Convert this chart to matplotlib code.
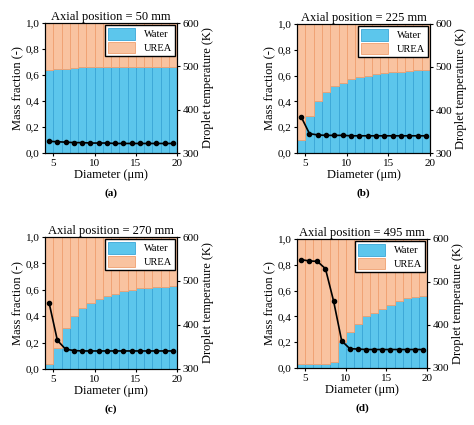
import matplotlib
matplotlib.use("Agg")
import matplotlib.pyplot as plt
from matplotlib.ticker import FuncFormatter

plt.rcParams['font.family'] = ['Liberation Serif', 'DejaVu Serif']

diam = [4.5 + i for i in range(16)]
titles = ["Axial position = 50 mm", "Axial position = 225 mm",
          "Axial position = 270 mm", "Axial position = 495 mm"]
labels = ["(a)", "(b)", "(c)", "(d)"]
water_a = [0.64, 0.645, 0.65, 0.655, 0.66, 0.66, 0.66, 0.66, 0.66, 0.66, 0.66, 0.66, 0.66, 0.66, 0.665, 0.665]
water_b = [0.10, 0.29, 0.40, 0.47, 0.52, 0.54, 0.57, 0.59, 0.60, 0.61, 0.62, 0.625, 0.63, 0.635, 0.64, 0.645]
water_c = [0.04, 0.16, 0.31, 0.40, 0.46, 0.50, 0.53, 0.55, 0.57, 0.59, 0.60, 0.61, 0.615, 0.62, 0.625, 0.63]
water_d = [0.03, 0.03, 0.03, 0.03, 0.05, 0.20, 0.28, 0.34, 0.40, 0.43, 0.46, 0.49, 0.52, 0.54, 0.55, 0.56]
temp_a = [327, 326, 325, 324, 324, 323, 323, 323, 322, 322, 322, 322, 322, 322, 322, 322]
temp_b = [384, 345, 342, 341, 341, 341, 340, 340, 340, 340, 340, 340, 340, 340, 340, 340]
temp_c = [450, 365, 345, 342, 341, 341, 341, 341, 341, 341, 341, 341, 341, 341, 341, 341]
temp_d = [552, 549, 548, 531, 456, 363, 345, 344, 343, 343, 343, 343, 343, 343, 343, 343]
waters = [water_a, water_b, water_c, water_d]
temps = [temp_a, temp_b, temp_c, temp_d]

W, H = 474, 425
fig = plt.figure(figsize=(W/100, H/100), dpi=100)
boxes = [(45, 23, 177, 153), (297, 24, 430, 153), (45, 237, 177, 369), (297, 239, 427, 368)]
fmt = FuncFormatter(lambda v, p: f"{v:.1f}".replace('.', ','))
for k in range(4):
    x0, y0, x1, y1 = boxes[k]
    ax = fig.add_axes([x0/W, 1-y1/H, (x1-x0)/W, (y1-y0)/H])
    w = waters[k]
    u = [1-v for v in w]
    ax.bar(diam, w, width=1.0, color='#5cc6ec', edgecolor='#3aa6d6', linewidth=0.6, label='Water')
    ax.bar(diam, u, bottom=w, width=1.0, color='#f9c3a0', edgecolor='#f0a070', linewidth=0.6, label='UREA')
    ax.set_xlim(4, 20)
    ax.set_ylim(0, 1)
    ax.set_xticks([5, 10, 15, 20])
    ax.set_yticks([0, 0.2, 0.4, 0.6, 0.8, 1.0])
    ax.yaxis.set_major_formatter(fmt)
    ax.tick_params(labelsize=8, length=2.5, pad=1.5)
    ax.set_xlabel("Diameter (μm)", fontsize=9, labelpad=1)
    ax.set_ylabel("Mass fraction (-)", fontsize=9, labelpad=1)
    ax.set_title(titles[k], fontsize=9, pad=2)
    ax.legend(loc='upper right', fontsize=7.5, frameon=True, fancybox=False,
              edgecolor='black', borderpad=0.3, handlelength=2.6, handleheight=1.3,
              labelspacing=0.2, borderaxespad=0.2, framealpha=1)
    ax2 = ax.twinx()
    ax2.plot(diam, temps[k], color='black', marker='o', markersize=3, linewidth=1.2)
    ax2.set_ylim(300, 600)
    ax2.set_yticks([300, 400, 500, 600])
    ax2.tick_params(labelsize=8, length=2.5, pad=1.5)
    ax2.set_ylabel("Droplet temperature (K)", fontsize=9, labelpad=2)
    fig.text((x0+x1)/2/W, 1-(y1+40)/H, labels[k], ha='center', va='center', fontsize=8, fontweight='bold')
fig.savefig("out.png", dpi=100)
